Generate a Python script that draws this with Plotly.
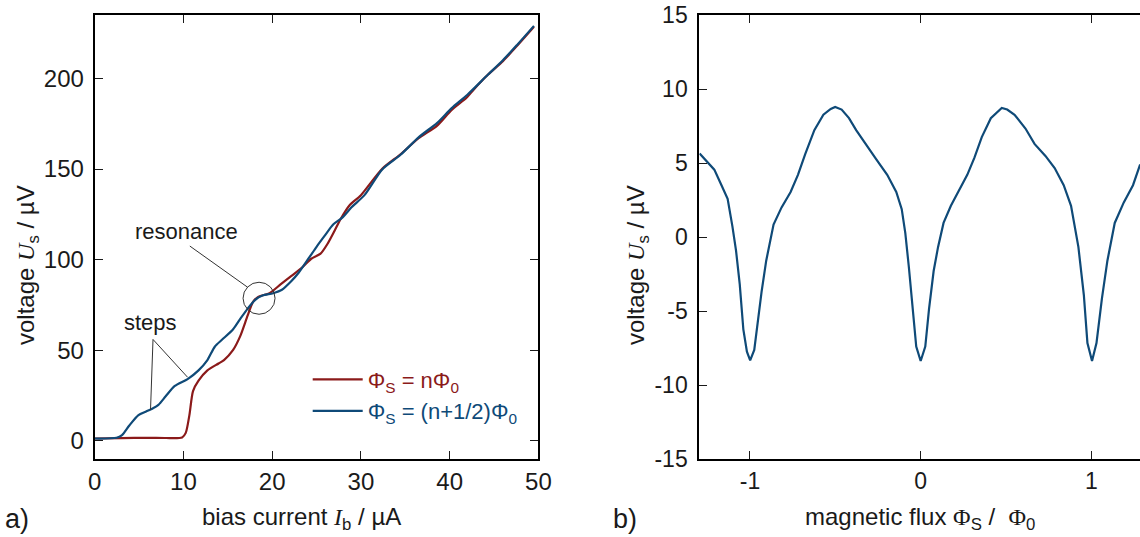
import plotly.graph_objects as go

# ---------------- data ----------------
# panel a) I-V curves
ib_n = [0, 3, 6, 8, 9.85, 10.26, 10.67, 11.08, 11.7, 12.7, 13.96, 14.57, 15.6, 16.4, 17.24,
        17.86, 18.47, 19.7, 20.94, 22.17, 23.4, 24.4, 25.45, 26.27, 27.1, 27.7, 28.7, 30,
        32.4, 34.5, 36.5, 38.6, 40.2, 41.9, 42.7, 44.3, 46, 47.6, 49.5]
us_n = [1.3, 1.5, 1.7, 1.6, 1.9, 4.4, 14.2, 27.5, 33.2, 38.9, 42.7, 44.6, 50.2, 57.8, 69.2,
        76.8, 79.6, 81.5, 86.3, 91, 95.8, 100.5, 103.3, 109, 116.6, 122.3, 129.9, 135.6,
        150.2, 158.3, 167.0, 174.0, 182.5, 189.3, 193.8, 202, 209.5, 218, 228.5]

ib_h = [0, 2.46, 3.08, 3.9, 4.93, 5.75, 6.57, 7.18, 8, 9.03, 10.47, 11.7, 12.7, 13.55, 14.37,
        15.6, 16.4, 17.24, 18.06, 18.9, 20.1, 21.1, 22.17, 23, 24.2, 25, 25.86, 26.9, 27.9,
        28.94, 30.4, 32.4, 34.5, 36.5, 38.6, 40.2, 42, 44.3, 46, 47.6, 49.5]
us_h = [1.3, 1.7, 3.2, 8.5, 14.2, 16.1, 18, 19.9, 24.6, 30.3, 34.1, 38.9, 44.6, 52.1, 55.9,
        61.6, 67.3, 73, 77.7, 80.2, 81.5, 83.4, 88.2, 92.9, 101.4, 107.1, 112.8, 119.5, 123.2,
        128.9, 135.6, 149.8, 158.0, 167.5, 175.5, 183.5, 191, 202, 210, 218.5, 229]

# panel b) flux modulation
flux = [-1.295, -1.252, -1.209, -1.167, -1.131, -1.103, -1.082, -1.06, -1.039, -1.018, -0.999,
        -0.975, -0.954, -0.932, -0.905, -0.862, -0.815, -0.762, -0.719, -0.677, -0.623, -0.57,
        -0.527, -0.501, -0.463, -0.42, -0.378, -0.324, -0.26, -0.196, -0.143, -0.111, -0.09,
        -0.069, -0.047, -0.026, 0.0, 0.027, 0.049, 0.076, 0.102, 0.134, 0.177, 0.23, 0.273,
        0.315, 0.358, 0.411, 0.475, 0.507, 0.55, 0.614, 0.667, 0.731, 0.785, 0.838, 0.881,
        0.924, 0.956, 0.977, 1.004, 1.03, 1.062, 1.094, 1.137, 1.19, 1.244, 1.286]
volt = [5.64, 5.13, 4.55, 3.5, 2.58, 0.72, -0.9, -3.2, -6.24, -7.75, -8.33, -7.63, -5.55, -3.69,
        -1.6, 0.84, 2.0, 3.04, 4.2, 5.59, 7.22, 8.26, 8.65, 8.79, 8.61, 8.03, 7.22, 6.29, 5.24,
        4.2, 3.04, 1.88, 0.26, -2.06, -4.85, -7.4, -8.38, -7.4, -4.85, -2.3, -0.67, 0.95, 2.11,
        3.27, 4.2, 5.36, 6.75, 8.03, 8.72, 8.61, 8.26, 7.33, 6.29, 5.48, 4.66, 3.5, 2.11, -0.67,
        -3.92, -7.17, -8.38, -7.17, -4.15, -1.6, 0.95, 2.34, 3.5, 4.9]

xticks_a = [0, 10, 20, 30, 40, 50]
yticks_a = [0, 50, 100, 150, 200]
xticks_b = [-1, 0, 1]
xtext_b = ["-1", "0", "1"]
yticks_b = [-15, -10, -5, 0, 5, 10, 15]
ytext_b = ["-15", "-10", "-5", "0", "5", "10", "15"]

RED = "#8b1a1a"
BLUE = "#0f4a78"
INK = "#1a1a1a"
FONT = "Liberation Sans"
SERIF = "Liberation Serif"

# the page body margin is removed by post_script, so the figure fills the window
W, H = 1140, 537
OFF = 0
T, B = 15, 78
PLOT_H = H - T - B


def PX(sx):
    return (sx - OFF) / W


def PY(sy):
    return (H - B + OFF - sy) / PLOT_H


fig = go.Figure()
fig.add_trace(go.Scatter(
    x=ib_n, y=us_n, mode="lines", xaxis="x", yaxis="y",
    line=dict(color=RED, width=2.2, shape="spline", smoothing=0.7),
    name='<span style="color:%s">Φ<sub>S</sub> = nΦ<sub>0</sub></span>' % RED))
fig.add_trace(go.Scatter(
    x=ib_h, y=us_h, mode="lines", xaxis="x", yaxis="y",
    line=dict(color=BLUE, width=2.2, shape="spline", smoothing=0.7),
    name='<span style="color:%s">Φ<sub>S</sub> = (n+1/2)Φ<sub>0</sub></span>' % BLUE))
fig.add_trace(go.Scatter(
    x=flux, y=volt, mode="lines", xaxis="x2", yaxis="y2",
    line=dict(color=BLUE, width=2.2), showlegend=False))


def ax(size):
    return dict(showgrid=False, zeroline=False, showline=True, linecolor="black",
                linewidth=2, ticks="inside", ticklen=8, tickwidth=1.3, tickcolor=INK,
                tickfont=dict(family=FONT, size=size, color=INK), automargin=False,
                ticklabeloverflow="allow")


fig.update_layout(
    width=W, height=H,
    margin=dict(l=0, r=0, t=T, b=B),
    paper_bgcolor="white", plot_bgcolor="white",
    xaxis=dict(domain=[PX(94.7), PX(538.4)], range=[0, 50], tickvals=xticks_a, mirror="ticks",
               anchor="y", ticklabelstandoff=0, **ax(24)),
    yaxis=dict(domain=[0, 1], range=[-10, 235], tickvals=yticks_a, mirror="ticks",
               anchor="x", ticklabelstandoff=4, **ax(24)),
    xaxis2=dict(domain=[PX(699.3), 1], range=[-1.297, 1.285], tickvals=xticks_b,
                ticktext=xtext_b, mirror="ticks", anchor="y2", ticklabelstandoff=0, **ax(23)),
    yaxis2=dict(domain=[0, 1], range=[-15, 15], tickvals=yticks_b, ticktext=ytext_b,
                anchor="x2", ticklabelstandoff=5, **ax(23)),
    yaxis3=dict(overlaying="y2", anchor="x2", side="right", range=[-15, 15],
                tickvals=yticks_b, showticklabels=False, showline=False, showgrid=False,
                zeroline=False, ticks="inside", ticklen=8, tickwidth=1.3, tickcolor=INK),
    legend=dict(x=PX(307.7), y=PY(358.5), xanchor="left", yanchor="top",
                bgcolor="rgba(0,0,0,0)", borderwidth=0,
                font=dict(family=FONT, size=22, color=INK),
                itemwidth=50, tracegroupgap=0),
    showlegend=True,
)


def ital(s):
    return '<span style="font-family:%s;font-style:italic">%s</span>' % (SERIF, s)


def serif(s):
    return '<span style="font-family:%s">%s</span>' % (SERIF, s)


annots = [
    dict(text="bias current " + ital("I") + "<sub>b</sub> / µA", x=301, y=518),
    dict(text="magnetic flux " + serif("Φ") + "<sub>S</sub> /  " + serif("Φ") + "<sub>0</sub>",
         x=920, y=518),
    dict(text="a)", x=17, y=519, size=27),
    dict(text="b)", x=625, y=519, size=27),
    dict(text="voltage " + ital("U") + "<sub>s</sub> / µV", x=27, y=265, angle=-90),
    dict(text="voltage " + ital("U") + "<sub>s</sub> / µV", x=637, y=265, angle=-90),
]
for a in annots:
    fig.add_annotation(
        text=a["text"], xref="paper", yref="paper",
        x=PX(a["x"]), y=PY(a["y"]), xanchor="center", yanchor="middle",
        showarrow=False, textangle=a.get("angle", 0),
        font=dict(family=FONT, size=a.get("size", 24), color=INK))

# callouts in panel a)
fig.add_annotation(text="resonance", x=10.29, y=115.7, xref="x", yref="y", showarrow=False,
                   font=dict(family=FONT, size=22, color=INK))
fig.add_annotation(text="steps", x=6.34, y=65.4, xref="x", yref="y", showarrow=False,
                   font=dict(family=FONT, size=22, color=INK))
callout = dict(color="#333333", width=1)
fig.add_shape(type="line", xref="x", yref="y", x0=10.72, y0=107.5, x1=17.24, y1=84.75, line=callout)
fig.add_shape(type="line", xref="x", yref="y", x0=6.57, y0=55.97, x1=6.29, y1=17.1, line=callout)
fig.add_shape(type="line", xref="x", yref="y", x0=6.57, y0=55.97, x1=10.47, y1=35.1, line=callout)
fig.add_shape(type="circle", xref="x", yref="y", xsizemode="pixel", ysizemode="pixel",
              xanchor=18.52, yanchor=78.7, x0=-16, x1=16, y0=-16, y1=16,
              line=dict(color="#333333", width=1))

fig.write_html("out.html",
               config={"displayModeBar": False},
               post_script="document.body.style.margin='0';"
                           "document.body.style.overflow='hidden';")
